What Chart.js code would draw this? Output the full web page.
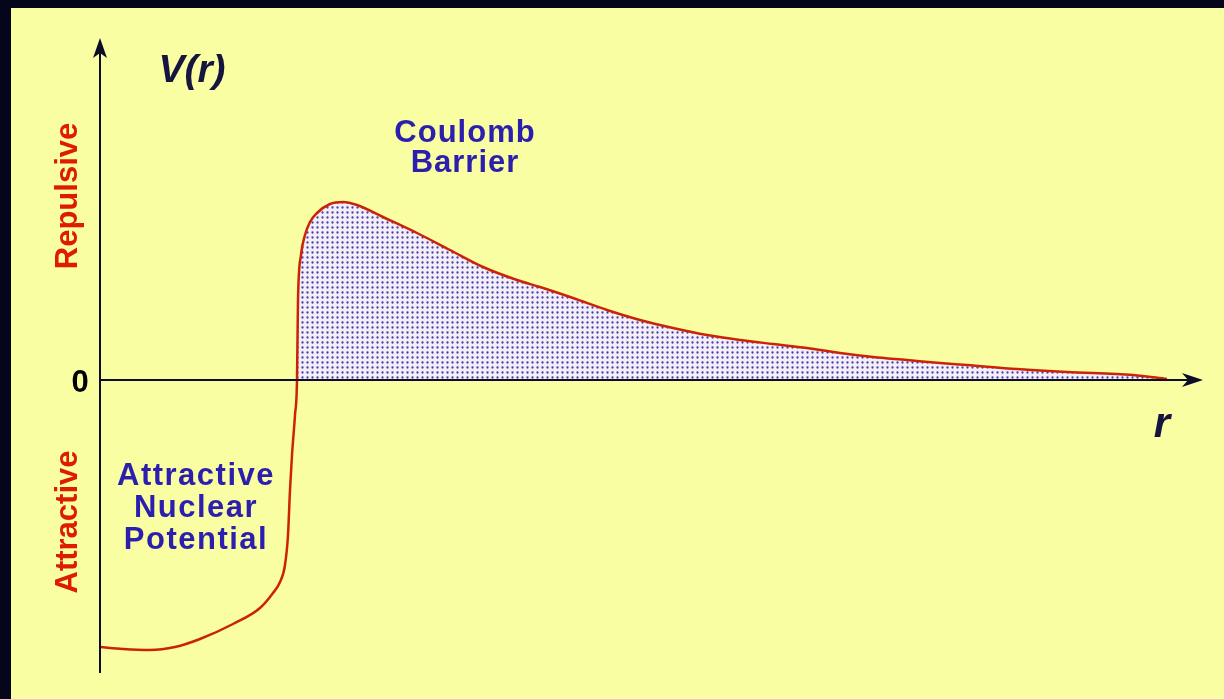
<!DOCTYPE html>
<html><head><meta charset="utf-8">
<script src="https://cdn.jsdelivr.net/npm/chart.js@4.4.1/dist/chart.umd.min.js"></script>
<style>
html,body{margin:0;padding:0;width:1224px;height:699px;overflow:hidden;background:#05061c;}
#panel{position:absolute;left:11px;top:8px;right:0;bottom:0;background:#f9fea2;}
#wrap{position:absolute;left:0;top:0;width:1224px;height:699px;}
</style></head><body>
<div id="panel"></div>
<div id="wrap"><canvas id="c"></canvas></div>
<script>
// distance r (arbitrary units) and potential V(r) (arbitrary units)
const rValues = [0.00,0.23,0.50,0.75,1.00,1.33,1.60,1.73,1.80,1.85,1.88,1.90,1.92,1.95,1.97,
  1.98,2.01,2.05,2.10,2.17,2.30,2.43,2.57,2.83,3.17,3.50,3.83,4.17,4.40,4.73,5.07,5.40,5.73,
  6.07,6.40,6.73,7.07,7.40,7.73,8.07,8.40,8.67,9.17,9.67,10.33,10.67];
const vValues = [-2.67,-2.69,-2.70,-2.67,-2.59,-2.44,-2.28,-2.13,-2.02,-1.85,-1.55,-1.10,-0.75,-0.35,0.00,
  0.80,1.25,1.45,1.58,1.67,1.76,1.78,1.75,1.63,1.47,1.30,1.13,1.00,0.93,0.82,0.70,0.60,0.52,
  0.45,0.40,0.36,0.32,0.27,0.23,0.20,0.17,0.15,0.11,0.08,0.05,0.01];
const rRange = [0, 11.03];
const vRange = [-2.93, 3.42];
const yTickLabels = ['0'];
const yTickValues = [0];
const axisTitleY = 'V(r)';
const axisTitleX = 'r';
const sideLabels = ['Repulsive', 'Attractive'];
const barrierLabel = ['Coulomb', 'Barrier'];
const nuclearLabel = ['Attractive', 'Nuclear', 'Potential'];

// dotted fill pattern
function makePattern(){
  const t = document.createElement('canvas');
  t.width = 5; t.height = 5;
  const g = t.getContext('2d');
  g.fillStyle = '#f3eff8'; g.fillRect(0,0,5,5);
  g.fillStyle = '#4c3ca8';
  g.beginPath(); g.arc(2.5,2.5,1.15,0,Math.PI*2); g.fill();
  return g.createPattern(t,'repeat');
}

const FONT = '"Liberation Sans", Arial, sans-serif';

const overlay = {
  id: 'overlay',
  afterDatasetsDraw(chart){
    const {ctx, scales:{x, y}} = chart;
    const x0 = x.getPixelForValue(0), y0 = y.getPixelForValue(0);
    const xEnd = x.getPixelForValue(x.max);
    const yTop = y.getPixelForValue(y.max), yBot = y.getPixelForValue(y.min);
    ctx.save();
    ctx.strokeStyle = '#0d0d28'; ctx.fillStyle = '#0d0d28'; ctx.lineWidth = 2;
    ctx.beginPath(); ctx.moveTo(x0, yBot); ctx.lineTo(x0, yTop + 10); ctx.stroke();
    ctx.beginPath(); ctx.moveTo(x0, y0); ctx.lineTo(xEnd - 10, y0); ctx.stroke();
    // y arrow
    ctx.beginPath();
    ctx.moveTo(x0, yTop); ctx.lineTo(x0 + 7, yTop + 20); ctx.lineTo(x0, yTop + 15); ctx.lineTo(x0 - 7, yTop + 20);
    ctx.closePath(); ctx.fill();
    // x arrow
    ctx.beginPath();
    ctx.moveTo(xEnd, y0); ctx.lineTo(xEnd - 21, y0 - 7); ctx.lineTo(xEnd - 15, y0); ctx.lineTo(xEnd - 21, y0 + 7);
    ctx.closePath(); ctx.fill();

    const P = (r, v) => [x.getPixelForValue(r), y.getPixelForValue(v)];
    ctx.textBaseline = 'alphabetic';
    ctx.textAlign = 'center';
    // tick label 0
    ctx.fillStyle = '#000';
    ctx.font = 'bold 31px ' + FONT;
    yTickValues.forEach((val, i) => {
      const p = P(-0.2, val);
      ctx.fillText(yTickLabels[i], p[0], p[1] + 12);
    });
    // axis titles
    ctx.fillStyle = '#15153f';
    ctx.font = 'italic bold 39px ' + FONT;
    let p = P(0.92, 2.98); ctx.fillText(axisTitleY, p[0], p[1]);
    ctx.font = 'italic bold 42px ' + FONT;
    p = P(10.62, -0.57); ctx.fillText(axisTitleX, p[0], p[1]);
    // side labels (rotated, red)
    ctx.fillStyle = '#dd1c00';
    ctx.font = 'bold 31px ' + FONT;
    [[sideLabels[0], 1.84], [sideLabels[1], -1.42]].forEach(([txt, v]) => {
      const q = P(-0.235, v);
      ctx.save(); ctx.translate(q[0], q[1]); ctx.rotate(-Math.PI/2);
      ctx.fillText(txt, 0, 0); ctx.restore();
    });
    // blue annotations
    ctx.fillStyle = '#2c1fae';
    ctx.font = 'bold 31px ' + FONT;
    ctx.letterSpacing = '1px';
    p = P(3.65, 2.38); ctx.fillText(barrierLabel[0], p[0], p[1]);
    p = P(3.65, 2.08); ctx.fillText(barrierLabel[1], p[0], p[1]);
    ctx.letterSpacing = '1.5px';
    [-1.05, -1.37, -1.69].forEach((v, i) => {
      const q = P(0.96, v); ctx.fillText(nuclearLabel[i], q[0], q[1]);
    });
    ctx.restore();
  }
};

new Chart(document.getElementById('c'), {
  type: 'line',
  data: {
    datasets: [{
      data: rValues.map((r, i) => ({x: r, y: vValues[i]})),
      borderColor: '#cc2306',
      borderWidth: 2.5,
      pointRadius: 0,
      cubicInterpolationMode: 'monotone',
      fill: {target: {value: 0}, above: makePattern(), below: 'rgba(0,0,0,0)'}
    }]
  },
  options: {
    responsive: true,
    maintainAspectRatio: false,
    animation: false,
    layout: {padding: {left: 100, right: 21, top: 38, bottom: 26}},
    plugins: {legend: {display: false}, tooltip: {enabled: false}},
    scales: {
      x: {type: 'linear', min: rRange[0], max: rRange[1], display: false},
      y: {type: 'linear', min: vRange[0], max: vRange[1], display: false}
    }
  },
  plugins: [overlay]
});
</script>
</body></html>
